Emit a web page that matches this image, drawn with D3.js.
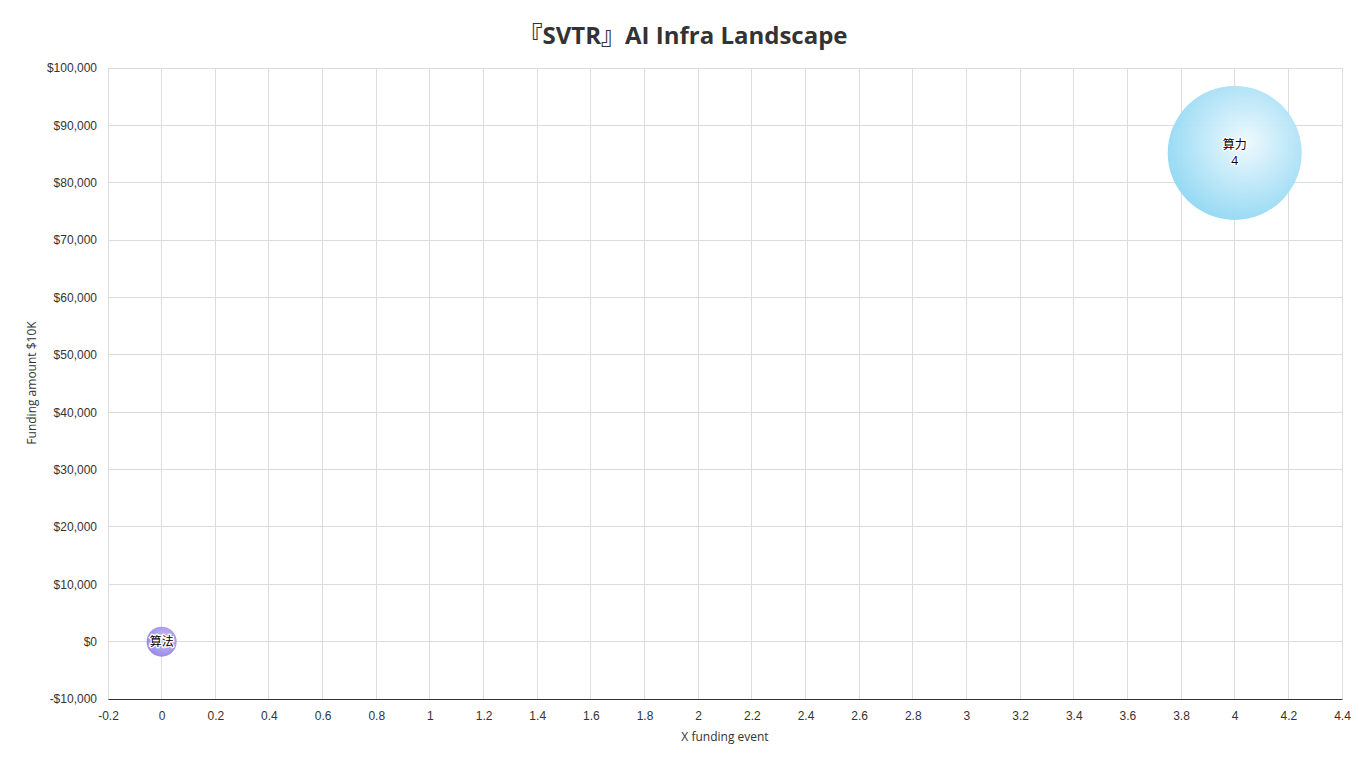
<!DOCTYPE html>
<html>
<head>
<meta charset="utf-8">
<script src="https://cdn.jsdelivr.net/npm/d3@7"></script>
<style>
  body { margin: 0; background: #fff; }
  svg { display: block; font-family: "Open Sans", "Noto Sans CJK SC", sans-serif; }
</style>
</head>
<body>
<svg id="chart" width="1366" height="766"></svg>
<script>
var names = ["算力", "算法"],
    events = [4, 0],
    amounts = [85200, 0],
    counts = [4, 0],
    xTicks = [-0.2, 0, 0.2, 0.4, 0.6, 0.8, 1, 1.2, 1.4, 1.6, 1.8, 2, 2.2, 2.4, 2.6, 2.8, 3, 3.2, 3.4, 3.6, 3.8, 4, 4.2, 4.4],
    yTicks = [-10000, 0, 10000, 20000, 30000, 40000, 50000, 60000, 70000, 80000, 90000, 100000];

var svg = d3.select("#chart"),
    margin = {top: 68, right: 24, bottom: 67, left: 108},
    width = 1366 - margin.left - margin.right,
    height = 766 - margin.top - margin.bottom;

var x = d3.scaleLinear().domain([-0.2, 4.4]).range([0, width]),
    y = d3.scaleLinear().domain([-10000, 100000]).range([height, 0]),
    r = d3.scaleLinear().domain([0, 4]).range([15, 67]);

var defs = svg.append("defs");
function grad(id, inner, outer) {
  var gr = defs.append("radialGradient").attr("id", id)
      .attr("cx", "0.58").attr("cy", "0.42").attr("r", "0.6");
  gr.append("stop").attr("offset", "0").attr("stop-color", inner);
  gr.append("stop").attr("offset", "1").attr("stop-color", outer);
}
grad("g0", "#eef9fe", "#92d8f3");
grad("g1", "#c9c0f7", "#9384e6");

svg.append("text")
    .attr("x", 683).attr("y", 44)
    .attr("text-anchor", "middle")
    .style("font-size", "24px").style("font-weight", "bold")
    .attr("fill", "#333")
    .text("『SVTR』AI Infra Landscape");

var g = svg.append("g").attr("transform", "translate(" + margin.left + "," + margin.top + ")");

// grid
g.append("g").selectAll("line").data(xTicks).enter().append("line")
    .attr("x1", function(d) { return x(d); }).attr("x2", function(d) { return x(d); })
    .attr("y1", 0).attr("y2", height)
    .attr("stroke", "#dcdcdc").attr("shape-rendering", "crispEdges");
g.append("g").selectAll("line").data(yTicks).enter().append("line")
    .attr("x1", 0).attr("x2", width)
    .attr("y1", function(d) { return y(d); }).attr("y2", function(d) { return y(d); })
    .attr("stroke", "#dcdcdc").attr("shape-rendering", "crispEdges");

var xAxis = g.append("g")
    .attr("transform", "translate(0," + height + ")")
    .call(d3.axisBottom(x).tickValues(xTicks).tickSize(0).tickPadding(12)
      .tickFormat(function(d) { return String(+d.toFixed(1)); }));
xAxis.select(".domain").attr("stroke", "#333");
xAxis.selectAll("text").attr("fill", "#333").style("font-size", "12px");

var yAxis = g.append("g")
    .call(d3.axisLeft(y).tickValues(yTicks).tickSize(0).tickPadding(11)
      .tickFormat(function(d) { return (d < 0 ? "-$" : "$") + d3.format(",")(Math.abs(d)); }));
yAxis.select(".domain").remove();
yAxis.selectAll("text").attr("fill", "#333").style("font-size", "12px");

svg.append("text")
    .attr("x", 725).attr("y", 741)
    .attr("text-anchor", "middle")
    .attr("fill", "#333").style("font-size", "12px")
    .text("X funding event");

svg.append("text")
    .attr("transform", "translate(36,383) rotate(-90)")
    .attr("text-anchor", "middle")
    .attr("fill", "#333").style("font-size", "12px")
    .text("Funding amount $10K");

var data = names.map(function(n, i) {
  return {name: n, x: events[i], y: amounts[i], count: counts[i]};
});

var bubble = g.selectAll(".bubble").data(data).enter().append("g")
    .attr("class", "bubble")
    .attr("transform", function(d) { return "translate(" + x(d.x) + "," + y(d.y) + ")"; });

bubble.append("circle")
    .attr("r", function(d) { return r(d.count); })
    .attr("fill", function(d, i) { return "url(#g" + i + ")"; })
    .attr("fill-opacity", 0.95);

bubble.each(function(d) {
  var lines = d.count > 0 ? [d.name, String(d.count)] : [d.name];
  var t = d3.select(this).append("text")
      .attr("text-anchor", "middle")
      .style("font-size", "12px")
      .attr("fill", "#000")
      .attr("stroke", "#fff").attr("stroke-width", 2.5)
      .attr("paint-order", "stroke");
  lines.forEach(function(l, k) {
    t.append("tspan").attr("x", 0)
      .attr("y", (k - (lines.length - 1) / 2) * 16 + 4)
      .text(l);
  });
});
</script>
</body>
</html>
